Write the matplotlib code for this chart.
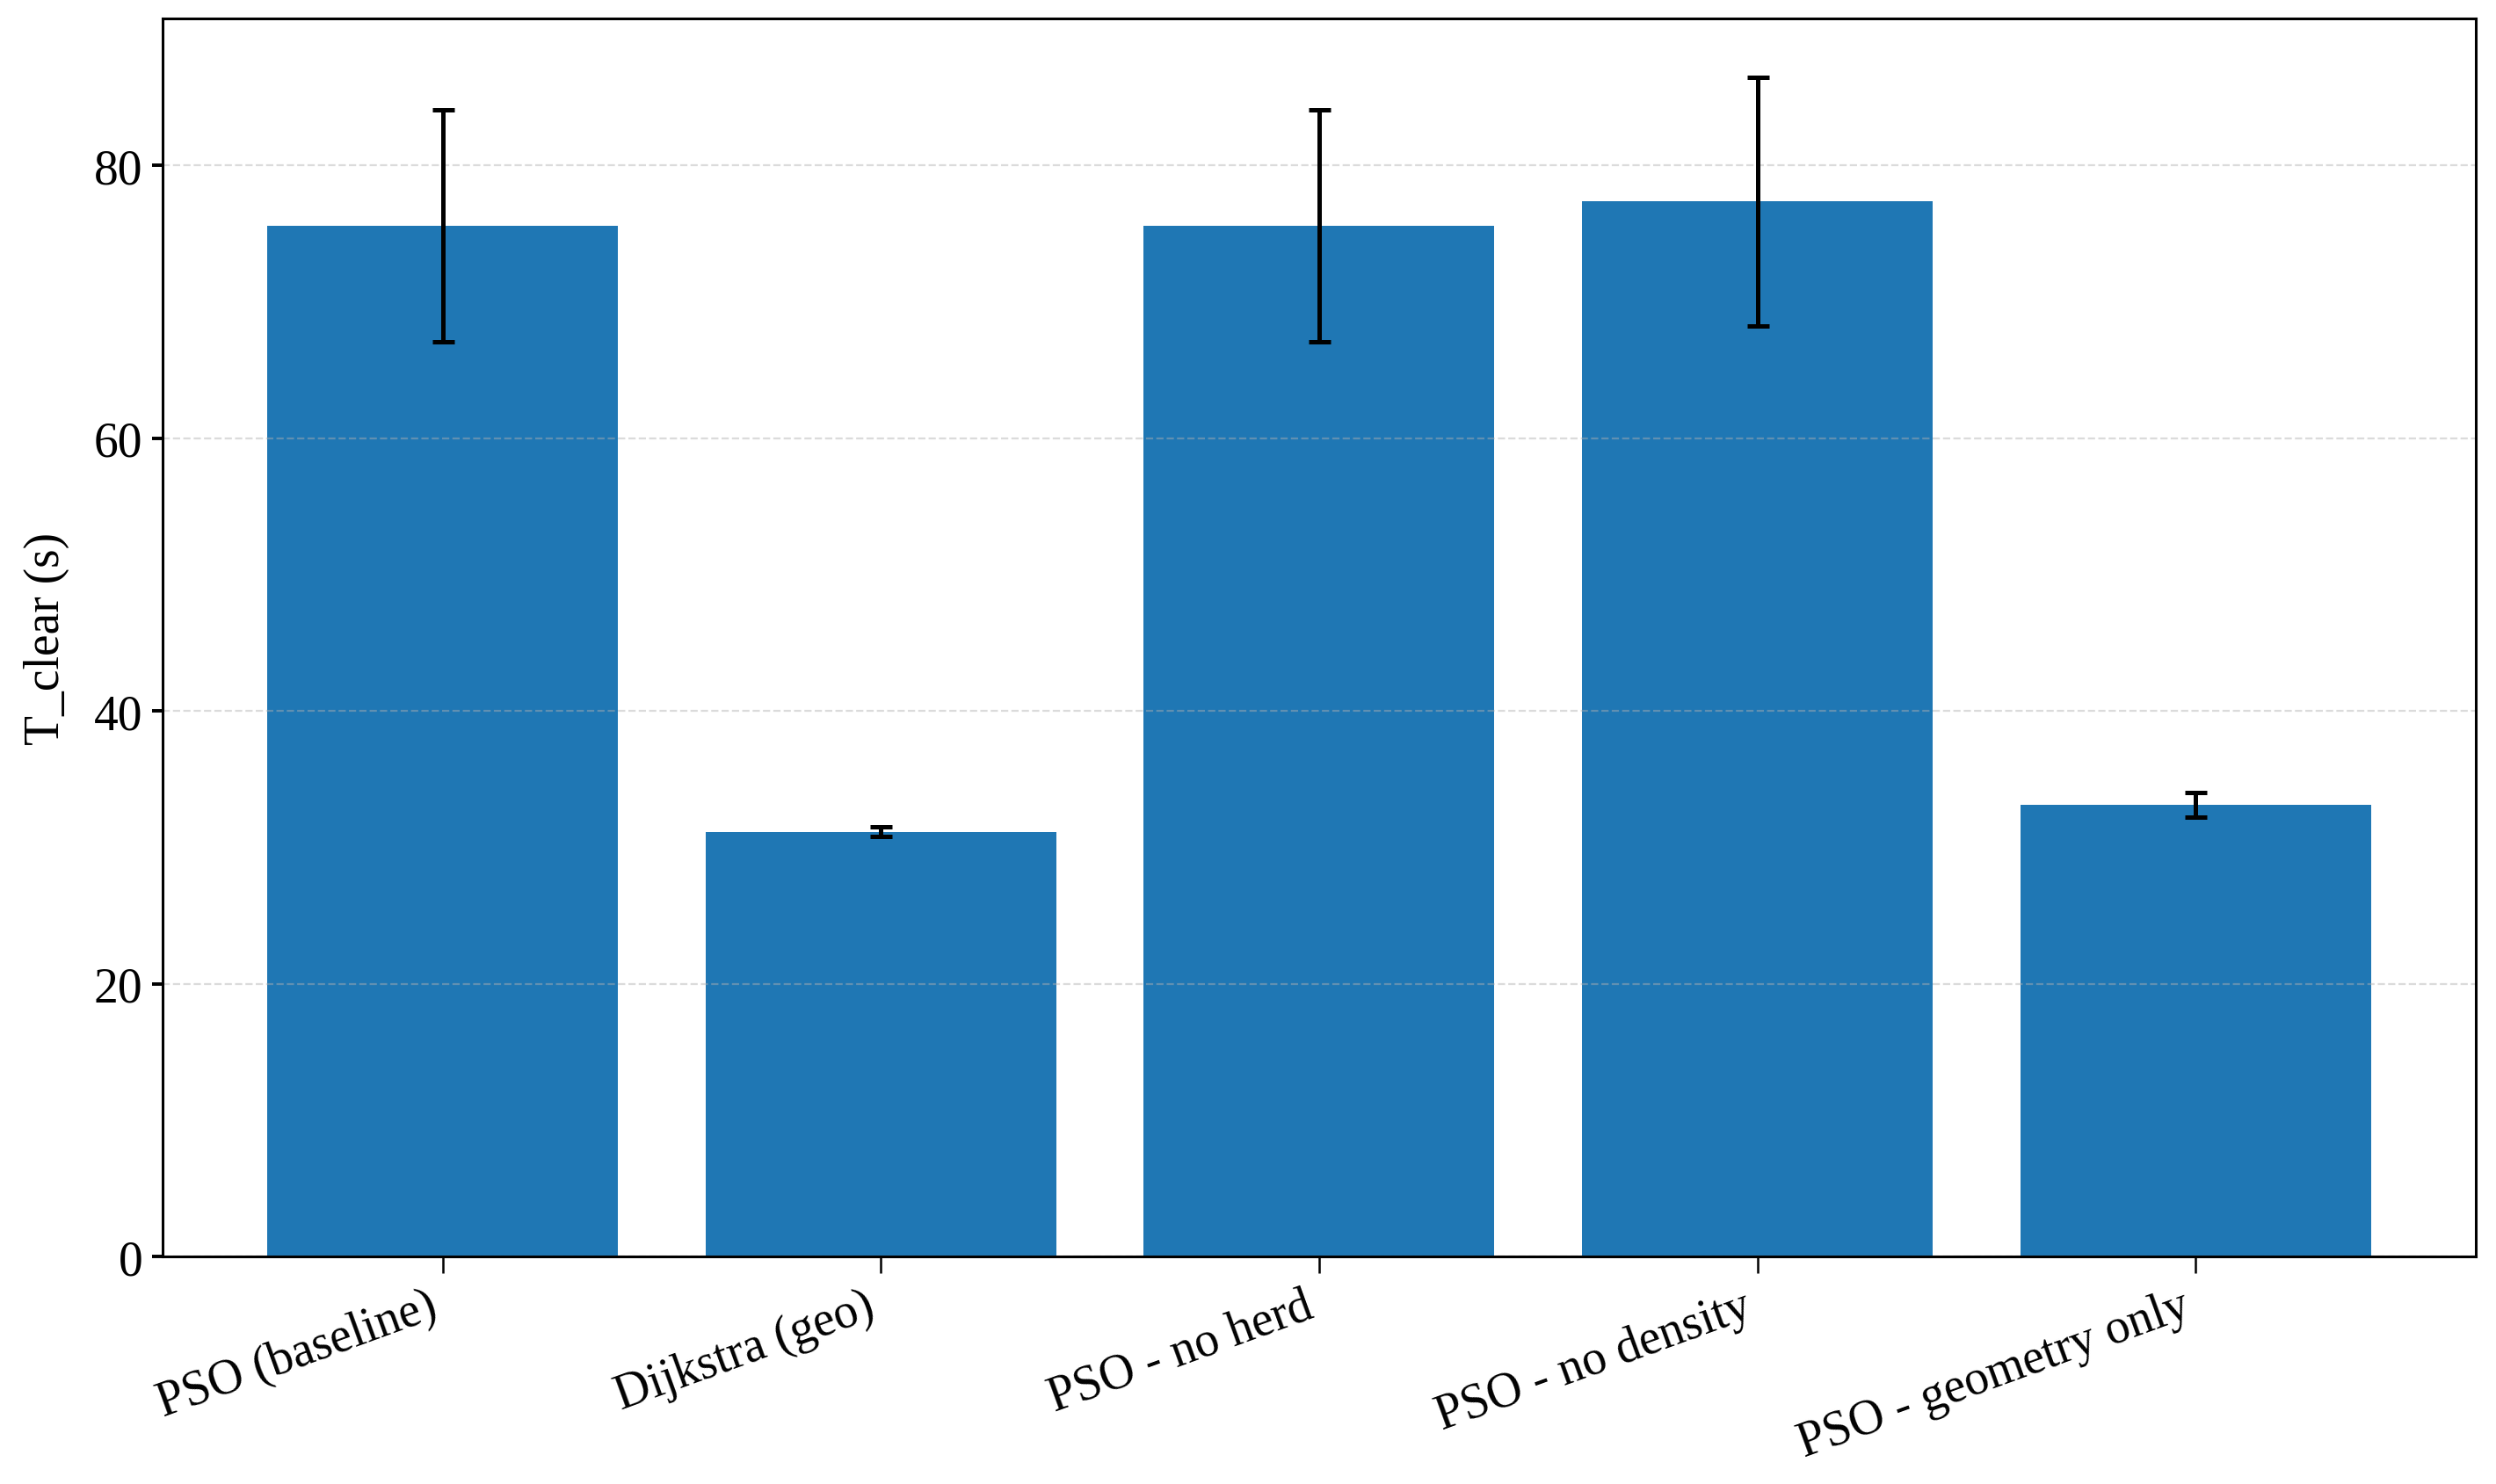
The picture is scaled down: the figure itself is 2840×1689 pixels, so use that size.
import numpy as np
import matplotlib
matplotlib.use("Agg")
import matplotlib.pyplot as plt

plt.rcParams['font.family'] = ['Liberation Serif', 'DejaVu Serif']

methods = ['PSO (baseline)', 'Dijkstra (geo)', 'PSO - no herd',
           'PSO - no density', 'PSO - geometry only']
t_clear_mean = [75.6, 31.15, 75.6, 77.35, 33.1]
t_clear_std = [8.5, 0.35, 8.5, 9.1, 0.9]

fig, ax = plt.subplots(figsize=(14.2, 8.45), dpi=200)
x = np.arange(len(methods))
ax.bar(x, t_clear_mean, yerr=t_clear_std, capsize=4.5, color='#1f77b4',
       error_kw=dict(elinewidth=1.8, capthick=1.8, ecolor='black'))

ax.set_xticks(x)
ax.set_xticklabels(methods, rotation=20, ha='right', fontsize=20)
ax.tick_params(axis='y', labelsize=20, length=4.5, width=1.4)
ax.tick_params(axis='x', length=7, width=0.9)
ax.set_ylabel('T_clear (s)', fontsize=20, labelpad=10)
ax.yaxis.grid(True, linestyle='--', alpha=0.45)
for s in ax.spines.values():
    s.set_linewidth(1.1)

plt.subplots_adjust(left=0.065, right=0.992, top=0.987, bottom=0.153)
plt.savefig('out.png')
